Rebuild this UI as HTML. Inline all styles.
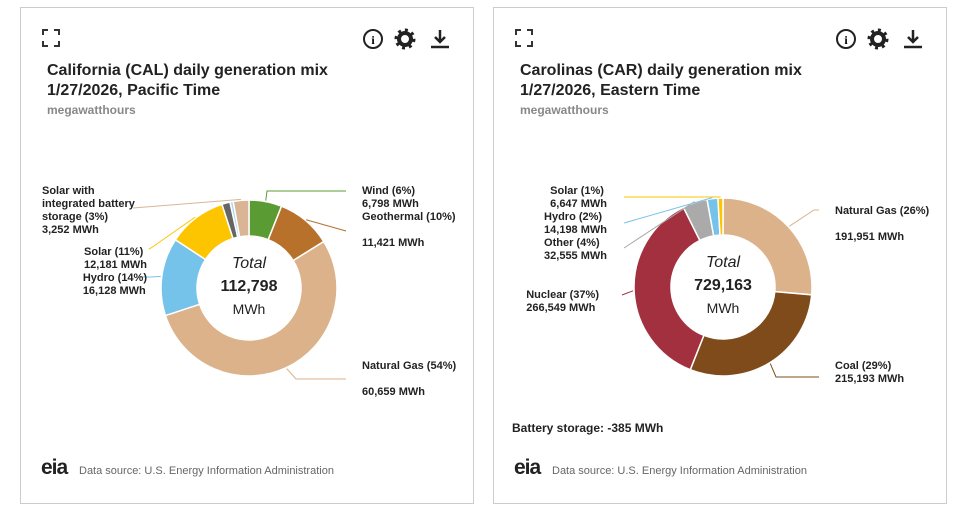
<!DOCTYPE html>
<html><head><meta charset="utf-8">
<style>
body{margin:0;width:959px;height:513px;background:#fff;font-family:"Liberation Sans",Arial,sans-serif;position:relative;overflow:hidden}
.panel{position:absolute;top:7px;width:454px;height:497px;border:1px solid #ccc;box-sizing:border-box}
.title{position:absolute;left:26px;top:53px;font-size:16px;font-weight:bold;color:#222;line-height:20px}
.unit{position:absolute;left:26px;top:95px;font-size:12px;font-weight:bold;color:#888}
.src{position:absolute;left:58px;top:457px;font-size:11px;color:#666}
.eia{position:absolute;left:20px;top:448px;font-size:21px;color:#222;font-weight:bold;letter-spacing:-1px}
.lbl{position:absolute;font-size:11px;font-weight:bold;color:#222;line-height:13px;white-space:nowrap}
svg{position:absolute;left:0;top:0}
.ic{position:absolute;top:22px}
</style></head><body>
<div class="panel" id="p1" style="left:20px">
 <svg class="ic" style="left:20px;top:20px" width="20" height="20"><path d="M2 7V2H7M13 2H18V7M18 13V18H13M7 18H2V13" fill="none" stroke="#333" stroke-width="2"/></svg>
 <svg class="ic" style="left:341px;top:20px" width="22" height="22"><circle cx="11" cy="11" r="9" fill="none" stroke="#222" stroke-width="2"/><text x="11" y="16" font-size="12" font-weight="bold" text-anchor="middle" font-family="Liberation Serif">i</text></svg>
 <svg class="ic" style="left:373px;top:20px" width="22" height="22"><circle cx="11" cy="11" r="6" fill="none" stroke="#222" stroke-width="4"/><circle cx="11" cy="11" r="9" fill="none" stroke="#222" stroke-width="3" stroke-dasharray="3 4"/></svg>
 <svg class="ic" style="left:408px;top:20px" width="22" height="22"><path d="M11 2V14M6 9L11 14L16 9M2 19H20" fill="none" stroke="#222" stroke-width="2.5"/></svg>
 <div class="title">California (CAL) daily generation mix<br>1/27/2026, Pacific Time</div>
 <div class="unit">megawatthours</div>
 <div class="eia">eia</div>
 <div class="src">Data source: U.S. Energy Information Administration</div>
</div>
<div class="panel" id="p2" style="left:493px">
 <svg class="ic" style="left:20px;top:20px" width="20" height="20"><path d="M2 7V2H7M13 2H18V7M18 13V18H13M7 18H2V13" fill="none" stroke="#333" stroke-width="2"/></svg>
 <svg class="ic" style="left:341px;top:20px" width="22" height="22"><circle cx="11" cy="11" r="9" fill="none" stroke="#222" stroke-width="2"/><text x="11" y="16" font-size="12" font-weight="bold" text-anchor="middle" font-family="Liberation Serif">i</text></svg>
 <svg class="ic" style="left:373px;top:20px" width="22" height="22"><circle cx="11" cy="11" r="6" fill="none" stroke="#222" stroke-width="4"/><circle cx="11" cy="11" r="9" fill="none" stroke="#222" stroke-width="3" stroke-dasharray="3 4"/></svg>
 <svg class="ic" style="left:408px;top:20px" width="22" height="22"><path d="M11 2V14M6 9L11 14L16 9M2 19H20" fill="none" stroke="#222" stroke-width="2.5"/></svg>
 <div class="title">Carolinas (CAR) daily generation mix<br>1/27/2026, Eastern Time</div>
 <div class="unit">megawatthours</div>
 <div class="lbl" style="left:18px;top:414px;font-size:12px">Battery storage: -385 MWh</div>
 <div class="eia">eia</div>
 <div class="src">Data source: U.S. Energy Information Administration</div>
</div>
<script>
const calNames=["Wind","Geothermal","Natural Gas","Hydro","Solar","Other","Batteries","Solar with battery"];
const calValues=[6798,11421,60659,16128,12181,1700,659,3252];
const calColors=["#5b9b33","#b8712b","#dcb28b","#75c3ea","#fdc400","#666","#a8d8f0","#d9b596"];
const carNames=["Natural Gas","Coal","Nuclear","Other","Hydro","Solar"];
const carValues=[191951,215193,266549,32555,14198,6647];
const carColors=["#dcb28b","#7f4b1b","#a3303f","#aaaaaa","#75c3ea","#fdc400"];
// label anchors: x,y text position; ex,ey line end; bx,by elbow
const calLabels=[
 {i:0,x:341,y:177,t:"Wind (6%)<br>6,798 MWh",bx:246,by:183,ex:325,ey:183},
 {i:1,x:341,y:203,t:"Geothermal (10%)<br><br>11,421 MWh",bx:325,by:223,ex:325,ey:223},
 {i:2,x:341,y:352,t:"Natural Gas (54%)<br><br>60,659 MWh",bx:275,by:371,ex:325,ey:371},
 {i:3,x:128,y:264,t:"Hydro (14%)<br>16,128 MWh",r:1,bx:130,by:269,ex:120,ey:269},
 {i:4,x:128,y:238,t:"Solar (11%)<br>12,181 MWh",r:1,bx:130,by:240,ex:128,ey:241},
 {i:7,x:21,y:177,t:"Solar with<br>integrated battery<br>storage (3%)<br>3,252 MWh",bx:112,by:200,ex:112,ey:200}];
const carLabels=[
 {i:0,x:341,y:197,t:"Natural Gas (26%)<br><br>191,951 MWh",bx:320,by:202,ex:325,ey:202},
 {i:1,x:341,y:352,t:"Coal (29%)<br>215,193 MWh",bx:282,by:369,ex:325,ey:369},
 {i:2,x:107,y:281,t:"Nuclear (37%)<br>266,549 MWh",r:1,bx:128,by:287,ex:128,ey:287},
 {i:3,x:115,y:229,t:"Other (4%)<br>32,555 MWh",r:1,bx:130,by:240,ex:130,ey:240},
 {i:4,x:115,y:203,t:"Hydro (2%)<br>14,198 MWh",r:1,bx:130,by:215,ex:130,ey:215},
 {i:5,x:115,y:177,t:"Solar (1%)<br>6,647 MWh",r:1,bx:226,by:189,ex:130,ey:189}];
function donut(panel,names,vals,cols,labels,total,cx,cy,R,r){
 const NS="http://www.w3.org/2000/svg";
 const svg=document.createElementNS(NS,"svg");
 svg.setAttribute("width","454");svg.setAttribute("height","497");
 
 
 panel.appendChild(svg);
 const sum=vals.reduce((a,b)=>a+b,0);
 let a0=0;const mids=[];
 vals.forEach((v,k)=>{
  const a1=a0+v/sum*2*Math.PI;
  const p=(a,rad)=>[cx+rad*Math.sin(a),cy-rad*Math.cos(a)];
  const [x1,y1]=p(a0,R),[x2,y2]=p(a1,R),[x3,y3]=p(a1,r),[x4,y4]=p(a0,r);
  const lg=(a1-a0)>Math.PI?1:0;
  const path=document.createElementNS(NS,"path");
  path.setAttribute("d",`M${x1},${y1}A${R},${R} 0 ${lg} 1 ${x2},${y2}L${x3},${y3}A${r},${r} 0 ${lg} 0 ${x4},${y4}Z`);
  path.setAttribute("fill",cols[k]);path.setAttribute("stroke","#fff");path.setAttribute("stroke-width","1.5");
  
  
  svg.appendChild(path);
  mids.push((a0+a1)/2);a0=a1;
 });
 labels.forEach(L=>{
  const a=mids[L.i];
  const sx=cx+(R+1)*Math.sin(a),sy=cy-(R+1)*Math.cos(a);
  const ln=document.createElementNS(NS,"polyline");
  ln.setAttribute("points",`${sx},${sy} ${L.bx},${L.by} ${L.ex},${L.ey}`);
  ln.setAttribute("fill","none");ln.setAttribute("stroke",cols[L.i]);ln.setAttribute("stroke-width","1");
  
  
  svg.appendChild(ln);
  const d=document.createElement("div");d.className="lbl";
  d.innerHTML=L.t;
  d.style.top=L.y+"px";
  if(L.r){d.style.right=(454-L.x)+"px";}else d.style.left=L.x+"px";
  
  
  panel.appendChild(d);
 });
 const t=document.createElementNS(NS,"g");
 
 
 t.innerHTML=`<text x="${cx}" y="${cy-20}" text-anchor="middle" font-size="16" font-style="italic" fill="#222">Total</text><text x="${cx}" y="${cy+3}" text-anchor="middle" font-size="16" font-weight="bold" fill="#222">${total}</text><text x="${cx}" y="${cy+26}" text-anchor="middle" font-size="14" fill="#222">MWh</text>`;
 svg.appendChild(t);
}
donut(document.getElementById("p1"),calNames,calValues,calColors,calLabels,"112,798",228,280,88,52);
donut(document.getElementById("p2"),carNames,carValues,carColors,carLabels,"729,163",229,279,89,52);
</script>
</body></html>
